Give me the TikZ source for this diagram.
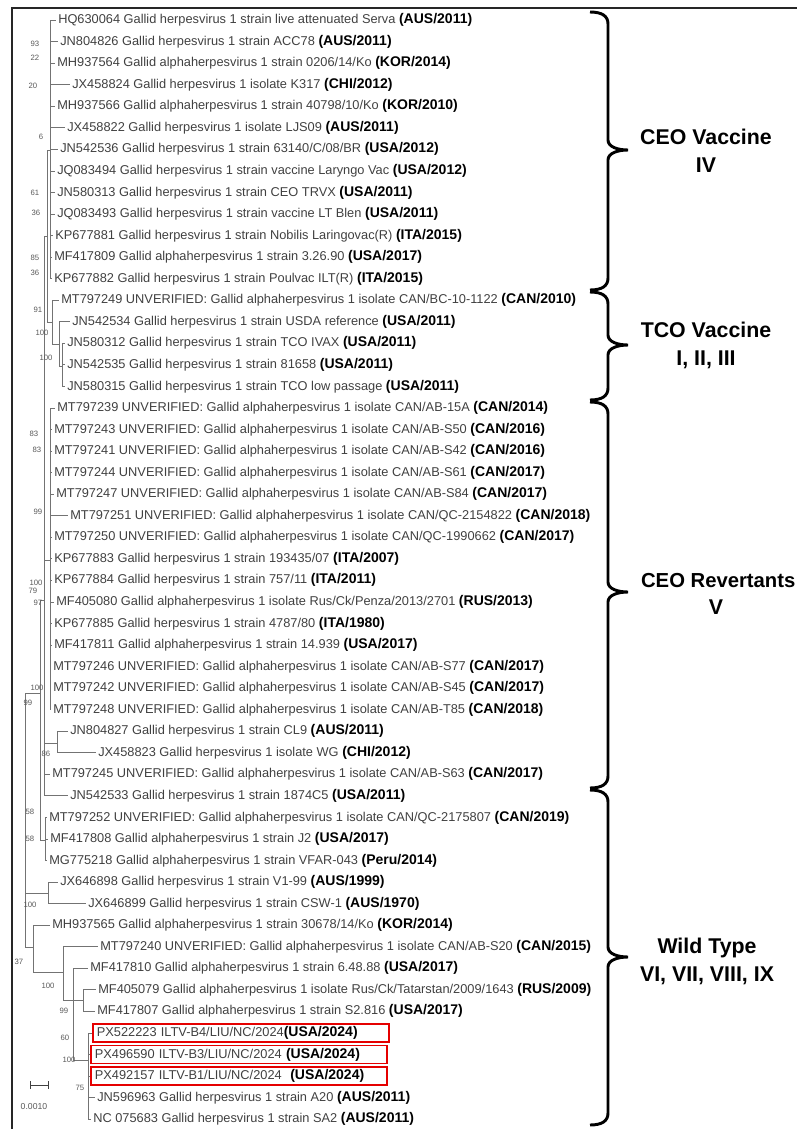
\documentclass[tikz,border=0pt]{standalone}
\usepackage{fontspec}
\setmainfont{Liberation Sans}

\newcommand\isoyr[1]{{\fontsize{10.5}{12}\selectfont\bfseries\color{black}#1}}
\newcommand\cladebrace[3]{%
  \draw[bracepen] (590,#1) .. controls (602,#1) and (608,#1+4) .. (608,#1+12)
    -- (608,#2-10) .. controls (608,#2-3) and (618,#2) .. (628,#2)
    .. controls (618,#2) and (608,#2+3) .. (608,#2+10)
    -- (608,#3-12) .. controls (608,#3-4) and (602,#3) .. (590,#3);}

\tikzset{
  leaf/.style={anchor=west, inner xsep=1.5pt, inner ysep=0pt,
    font=\fontsize{9.6}{11}\selectfont, text=black!75},
  pxleaf/.style={leaf, draw=red!90!black, line width=1.3pt, inner xsep=3pt,
    text width=216pt, minimum height=13.5pt},
  branch/.style={draw=black!55, line width=0.6pt},
  boot/.style={font=\fontsize{5.8}{6}\selectfont, text=black!65, inner sep=0pt},
  bracepen/.style={line width=2.2pt, black},
  cladename/.style={font=\fontsize{16}{21}\selectfont\bfseries, align=center}
}

\begin{document}
\begin{tikzpicture}[x=0.75pt, y=-0.75pt]
  \useasboundingbox (0,0) rectangle (797,1129);

  % frame
  \draw[line width=1.5pt, black!85] (12,1129) -- (12,8) -- (797,8);

  % CEO vaccine strains
  \node[leaf] (l1) at (56,20) {HQ630064 Gallid herpesvirus 1 strain live attenuated Serva \isoyr{(AUS/2011)}};
  \node[leaf] (l2) at (58,41.6) {JN804826 Gallid herpesvirus 1 strain ACC78 \isoyr{(AUS/2011)}};
  \node[leaf] (l3) at (55,63.1) {MH937564 Gallid alphaherpesvirus 1 strain 0206/14/Ko \isoyr{(KOR/2014)}};
  \node[leaf] (l4) at (70,84.7) {JX458824 Gallid herpesvirus 1 isolate K317 \isoyr{(CHI/2012)}};
  \node[leaf] (l5) at (55,106.2) {MH937566 Gallid alphaherpesvirus 1 strain 40798/10/Ko \isoyr{(KOR/2010)}};
  \node[leaf] (l6) at (65,127.8) {JX458822 Gallid herpesvirus 1 isolate LJS09 \isoyr{(AUS/2011)}};
  \node[leaf] (l7) at (58,149.3) {JN542536 Gallid herpesvirus 1 strain 63140/C/08/BR \isoyr{(USA/2012)}};
  \node[leaf] (l8) at (55,170.9) {JQ083494 Gallid herpesvirus 1 strain vaccine Laryngo Vac \isoyr{(USA/2012)}};
  \node[leaf] (l9) at (55,192.4) {JN580313 Gallid herpesvirus 1 strain CEO TRVX \isoyr{(USA/2011)}};
  \node[leaf] (l10) at (55,214) {JQ083493 Gallid herpesvirus 1 strain vaccine LT Blen \isoyr{(USA/2011)}};
  \node[leaf] (l11) at (53,235.5) {KP677881 Gallid herpesvirus 1 strain Nobilis Laringovac(R) \isoyr{(ITA/2015)}};
  \node[leaf] (l12) at (52,257.1) {MF417809 Gallid alphaherpesvirus 1 strain 3.26.90 \isoyr{(USA/2017)}};
  \node[leaf] (l13) at (52,278.6) {KP677882 Gallid herpesvirus 1 strain Poulvac ILT(R) \isoyr{(ITA/2015)}};

  % TCO vaccine strains
  \node[leaf] (l14) at (59,300.2) {MT797249 UNVERIFIED: Gallid alphaherpesvirus 1 isolate CAN/BC-10-1122 \isoyr{(CAN/2010)}};
  \node[leaf] (l15) at (70,321.7) {JN542534 Gallid herpesvirus 1 strain USDA reference \isoyr{(USA/2011)}};
  \node[leaf] (l16) at (65,343.3) {JN580312 Gallid herpesvirus 1 strain TCO IVAX \isoyr{(USA/2011)}};
  \node[leaf] (l17) at (65,364.8) {JN542535 Gallid herpesvirus 1 strain 81658 \isoyr{(USA/2011)}};
  \node[leaf] (l18) at (65,386.4) {JN580315 Gallid herpesvirus 1 strain TCO low passage \isoyr{(USA/2011)}};

  % CEO revertants
  \node[leaf] (l19) at (55,407.9) {MT797239 UNVERIFIED: Gallid alphaherpesvirus 1 isolate CAN/AB-15A \isoyr{(CAN/2014)}};
  \node[leaf] (l20) at (52,429.5) {MT797243 UNVERIFIED: Gallid alphaherpesvirus 1 isolate CAN/AB-S50 \isoyr{(CAN/2016)}};
  \node[leaf] (l21) at (52,451) {MT797241 UNVERIFIED: Gallid alphaherpesvirus 1 isolate CAN/AB-S42 \isoyr{(CAN/2016)}};
  \node[leaf] (l22) at (52,472.6) {MT797244 UNVERIFIED: Gallid alphaherpesvirus 1 isolate CAN/AB-S61 \isoyr{(CAN/2017)}};
  \node[leaf] (l23) at (54,494.1) {MT797247 UNVERIFIED: Gallid alphaherpesvirus 1 isolate CAN/AB-S84 \isoyr{(CAN/2017)}};
  \node[leaf] (l24) at (68,515.7) {MT797251 UNVERIFIED: Gallid alphaherpesvirus 1 isolate CAN/QC-2154822 \isoyr{(CAN/2018)}};
  \node[leaf] (l25) at (52,537.2) {MT797250 UNVERIFIED: Gallid alphaherpesvirus 1 isolate CAN/QC-1990662 \isoyr{(CAN/2017)}};
  \node[leaf] (l26) at (52,558.8) {KP677883 Gallid herpesvirus 1 strain 193435/07 \isoyr{(ITA/2007)}};
  \node[leaf] (l27) at (52,580.3) {KP677884 Gallid herpesvirus 1 strain 757/11 \isoyr{(ITA/2011)}};
  \node[leaf] (l28) at (54,601.9) {MF405080 Gallid alphaherpesvirus 1 isolate Rus/Ck/Penza/2013/2701 \isoyr{(RUS/2013)}};
  \node[leaf] (l29) at (52,623.4) {KP677885 Gallid herpesvirus 1 strain 4787/80 \isoyr{(ITA/1980)}};
  \node[leaf] (l30) at (52,645) {MF417811 Gallid alphaherpesvirus 1 strain 14.939 \isoyr{(USA/2017)}};
  \node[leaf] (l31) at (51,666.5) {MT797246 UNVERIFIED: Gallid alphaherpesvirus 1 isolate CAN/AB-S77 \isoyr{(CAN/2017)}};
  \node[leaf] (l32) at (51,688.1) {MT797242 UNVERIFIED: Gallid alphaherpesvirus 1 isolate CAN/AB-S45 \isoyr{(CAN/2017)}};
  \node[leaf] (l33) at (51,709.6) {MT797248 UNVERIFIED: Gallid alphaherpesvirus 1 isolate CAN/AB-T85 \isoyr{(CAN/2018)}};
  \node[leaf] (l34) at (68,731.2) {JN804827 Gallid herpesvirus 1 strain CL9 \isoyr{(AUS/2011)}};
  \node[leaf] (l35) at (96,752.7) {JX458823 Gallid herpesvirus 1 isolate WG \isoyr{(CHI/2012)}};
  \node[leaf] (l36) at (50,774.3) {MT797245 UNVERIFIED: Gallid alphaherpesvirus 1 isolate CAN/AB-S63 \isoyr{(CAN/2017)}};

  % wild type
  \node[leaf] (l37) at (68,795.8) {JN542533 Gallid herpesvirus 1 strain 1874C5 \isoyr{(USA/2011)}};
  \node[leaf] (l38) at (47,817.4) {MT797252 UNVERIFIED: Gallid alphaherpesvirus 1 isolate CAN/QC-2175807 \isoyr{(CAN/2019)}};
  \node[leaf] (l39) at (48,838.9) {MF417808 Gallid alphaherpesvirus 1 strain J2 \isoyr{(USA/2017)}};
  \node[leaf] (l40) at (47,860.5) {MG775218 Gallid alphaherpesvirus 1 strain VFAR-043 \isoyr{(Peru/2014)}};
  \node[leaf] (l41) at (58,882) {JX646898 Gallid herpesvirus 1 strain V1-99 \isoyr{(AUS/1999)}};
  \node[leaf] (l42) at (86,903.6) {JX646899 Gallid herpesvirus 1 strain CSW-1 \isoyr{(AUS/1970)}};
  \node[leaf] (l43) at (50,925.1) {MH937565 Gallid alphaherpesvirus 1 strain 30678/14/Ko \isoyr{(KOR/2014)}};
  \node[leaf] (l44) at (98,946.7) {MT797240 UNVERIFIED: Gallid alphaherpesvirus 1 isolate CAN/AB-S20 \isoyr{(CAN/2015)}};
  \node[leaf] (l45) at (88,968.2) {MF417810 Gallid alphaherpesvirus 1 strain 6.48.88 \isoyr{(USA/2017)}};
  \node[leaf] (l46) at (96,989.8) {MF405079 Gallid alphaherpesvirus 1 isolate Rus/Ck/Tatarstan/2009/1643 \isoyr{(RUS/2009)}};
  \node[leaf] (l47) at (95,1011.3) {MF417807 Gallid alphaherpesvirus 1 strain S2.816 \isoyr{(USA/2017)}};
  \node[pxleaf] (l48) at (92,1032.9) {PX522223 ILTV-B4/LIU/NC/2024\isoyr{(USA/2024)}};
  \node[pxleaf] (l49) at (90,1054.4) {PX496590 ILTV-B3/LIU/NC/2024 \isoyr{(USA/2024)}};
  \node[pxleaf] (l50) at (90,1076) {PX492157 ILTV-B1/LIU/NC/2024 \ \isoyr{(USA/2024)}};
  \node[leaf] (l51) at (95,1097.5) {JN596963 Gallid herpesvirus 1 strain A20 \isoyr{(AUS/2011)}};
  \node[leaf] (l52) at (91,1119.1) {NC 075683 Gallid herpesvirus 1 strain SA2 \isoyr{(AUS/2011)}};

  % internal nodes
  \coordinate (c1) at (50,150);
  \coordinate (t3) at (62,366);
  \coordinate (t2) at (59,344);
  \coordinate (t1) at (52,322);
  \coordinate (ct) at (47,236);
  \coordinate (r1) at (50,560);
  \coordinate (p1) at (57,743);
  \coordinate (b1) at (44,600);
  \coordinate (m1) at (45,840);
  \coordinate (a1) at (40,693);
  \coordinate (jx) at (48,893);
  \coordinate (w4) at (88,1060);
  \coordinate (w3) at (83,1000);
  \coordinate (w2) at (73,1000);
  \coordinate (w1) at (63,972);
  \coordinate (w0) at (33,947);
  \coordinate (a0) at (25,800);

  % branches
  \foreach \c in {l1,l2,l3,l4,l5,l6,l7,l8,l9,l10,l11,l12,l13}
    \draw[branch] (c1) |- (\c.west);
  \foreach \c in {l16,l17,l18} \draw[branch] (t3) |- (\c.west);
  \foreach \c in {l15,t3} \draw[branch] (t2) |- (\c.west);
  \foreach \c in {l14,t2} \draw[branch] (t1) |- (\c.west);
  \foreach \c in {c1,t1} \draw[branch] (ct) |- (\c.west);
  \foreach \c in {l19,l20,l21,l22,l23,l24,l25,l26,l27,l28,l29,l30,l31,l32,l33}
    \draw[branch] (r1) |- (\c.west);
  \foreach \c in {l34,l35} \draw[branch] (p1) |- (\c.west);
  \foreach \c in {ct,r1,p1,l36,l37} \draw[branch] (b1) |- (\c.west);
  \foreach \c in {l38,l39,l40} \draw[branch] (m1) |- (\c.west);
  \foreach \c in {b1,m1} \draw[branch] (a1) |- (\c.west);
  \foreach \c in {l41,l42} \draw[branch] (jx) |- (\c.west);
  \foreach \c in {l48,l49,l50,l51,l52} \draw[branch] (w4) |- (\c.west);
  \foreach \c in {l46,l47} \draw[branch] (w3) |- (\c.west);
  \foreach \c in {l45,w3,w4} \draw[branch] (w2) |- (\c.west);
  \foreach \c in {l44,w2} \draw[branch] (w1) |- (\c.west);
  \foreach \c in {l43,w1} \draw[branch] (w0) |- (\c.west);
  \foreach \c in {a1,jx,w0} \draw[branch] (a0) |- (\c.west);

  % bootstrap values
  \foreach \x/\y/\v in {35/44/93, 35/58/22, 33/86/20, 41/137/6, 35/193/61,
      36/213/36, 35/258/85, 35/273/36, 38/310/91, 42/333/100, 46/358/100,
      34/434/83, 37/450/83, 38/512/99, 36/583/100, 33/591/79, 38/603/97,
      37/688/100, 28/703/99, 46/754/86, 30/812/58, 30/839/58, 30/905/100,
      19/962/37, 48/986/100, 64/1011/99, 65/1038/60, 69/1060/100, 80/1088/75}
    \node[boot] at (\x,\y) {\v};

  % scale bar
  \draw[branch, black!75] (30,1085) -- (48,1085);
  \draw[branch, black!75] (30,1081) -- (30,1089);
  \draw[branch, black!75] (48,1081) -- (48,1089);
  \node[boot, font=\fontsize{6.5}{7}\selectfont] (scale) at (34,1107) {0.0010};

  % clade braces and names
  \cladebrace{12}{150}{290}
  \cladebrace{292}{345}{400}
  \cladebrace{402}{592}{788}
  \cladebrace{790}{957}{1125}
  \node[cladename] (ceovac) at (706,151) {CEO Vaccine\\IV};
  \node[cladename] (tcovac) at (706,345) {TCO Vaccine\\I, II, III};
  \node[cladename, font=\fontsize{15.2}{21}\selectfont\bfseries, anchor=north east, inner xsep=1pt] (ceorev) at (797,569) {CEO Revertants};
  \node[cladename] (ceorevnum) at (716,607) {V};
  \node[cladename] (wild) at (707,961) {Wild Type\\VI, VII, VIII, IX};
\end{tikzpicture}
\end{document}
